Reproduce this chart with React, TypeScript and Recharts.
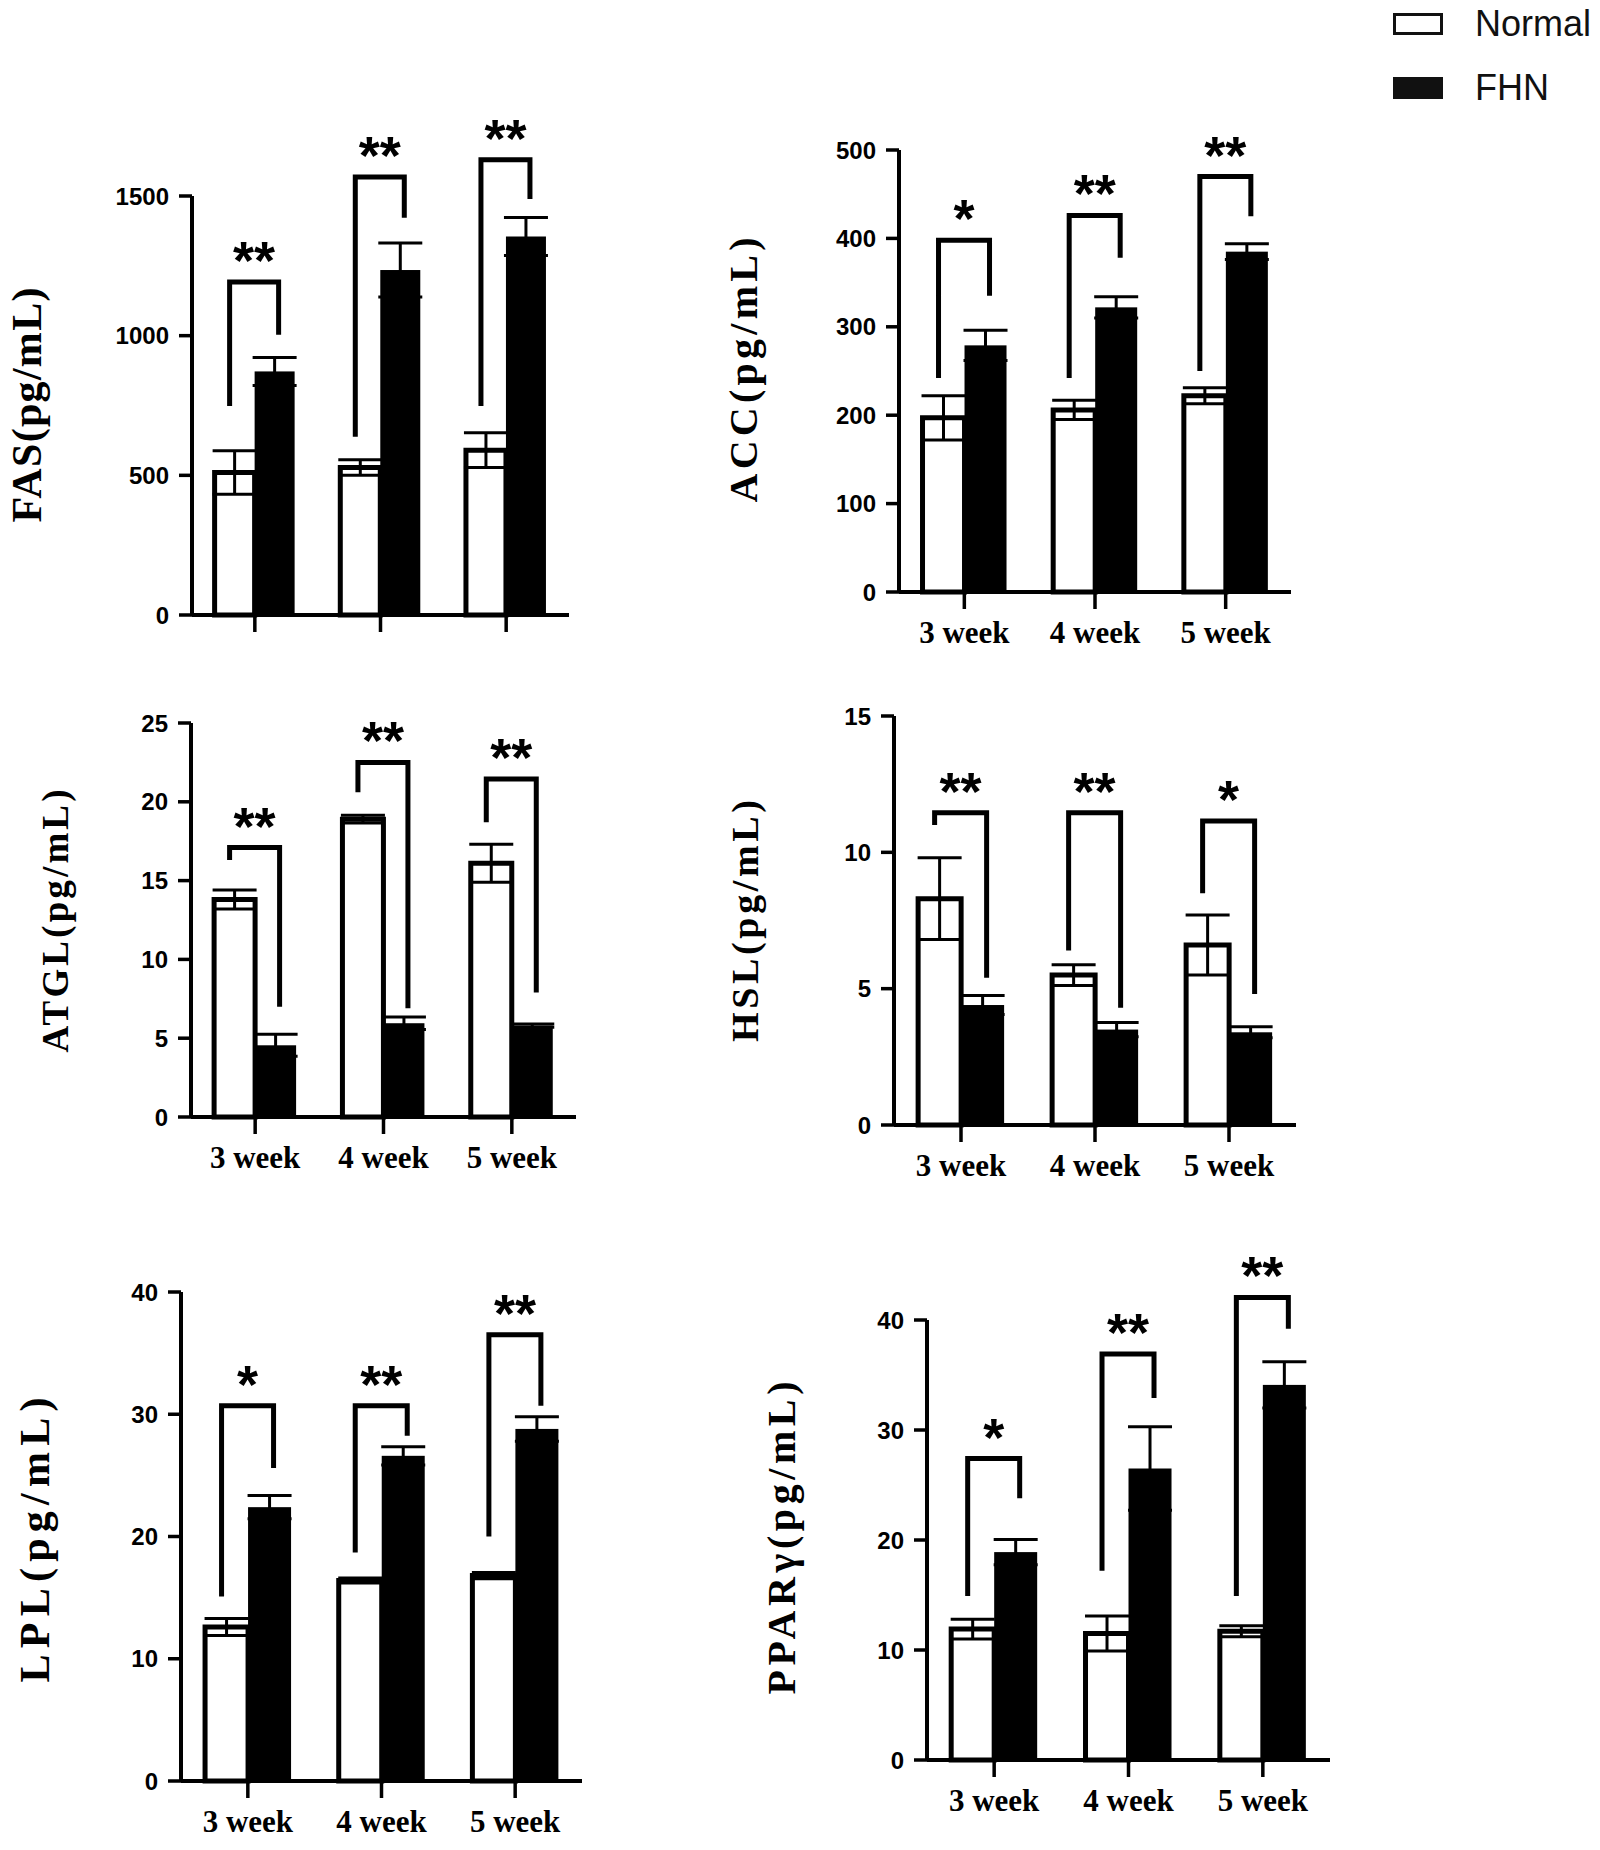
import { BarChart, Bar, XAxis, YAxis, ErrorBar } from 'recharts';

const WEEKS = ['3 week', '4 week', '5 week'];

// FAS
const FAS_NORMAL = [510, 528, 590];
const FAS_NORMAL_ERR = [78, 28, 62];
const FAS_FHN = [872, 1235, 1355];
const FAS_FHN_ERR = [50, 97, 68];
const FAS_BRACKET_TOP = [1192, 1568, 1630];
const FAS_BRACKET_LEFT = [748, 638, 748];
const FAS_BRACKET_RIGHT = [1003, 1422, 1489];
const FAS_STARS = ['**', '**', '**'];
const FAS_TICKS = [0, 500, 1000, 1500];

// ACC
const ACC_NORMAL = [197, 206, 222];
const ACC_NORMAL_ERR = [25, 11, 9];
const ACC_FHN = [279, 322, 385];
const ACC_FHN_ERR = [17, 12, 9];
const ACC_BRACKET_TOP = [398, 426, 470];
const ACC_BRACKET_LEFT = [242, 242, 250];
const ACC_BRACKET_RIGHT = [335, 378, 425];
const ACC_STARS = ['*', '**', '**'];
const ACC_TICKS = [0, 100, 200, 300, 400, 500];

// ATGL
const ATGL_NORMAL = [13.8, 18.9, 16.1];
const ATGL_NORMAL_ERR = [0.6, 0.25, 1.2];
const ATGL_FHN = [4.55, 5.95, 5.8];
const ATGL_FHN_ERR = [0.7, 0.4, 0.1];
const ATGL_BRACKET_TOP = [17.1, 22.5, 21.45];
const ATGL_BRACKET_LEFT = [16.3, 20.6, 18.7];
const ATGL_BRACKET_RIGHT = [7.0, 6.9, 7.9];
const ATGL_STARS = ['**', '**', '**'];
const ATGL_TICKS = [0, 5, 10, 15, 20, 25];

// HSL
const HSL_NORMAL = [8.3, 5.5, 6.6];
const HSL_NORMAL_ERR = [1.5, 0.38, 1.1];
const HSL_FHN = [4.4, 3.5, 3.4];
const HSL_FHN_ERR = [0.35, 0.26, 0.2];
const HSL_BRACKET_TOP = [11.45, 11.45, 11.15];
const HSL_BRACKET_LEFT = [11.0, 6.4, 8.5];
const HSL_BRACKET_RIGHT = [5.4, 4.3, 4.8];
const HSL_STARS = ['**', '**', '*'];
const HSL_TICKS = [0, 5, 10, 15];

// LPL
const LPL_NORMAL = [12.6, 16.4, 16.8];
const LPL_NORMAL_ERR = [0.7, 0.2, 0.25];
const LPL_FHN = [22.4, 26.6, 28.8];
const LPL_FHN_ERR = [0.95, 0.75, 1.0];
const LPL_BRACKET_TOP = [30.7, 30.7, 36.5];
const LPL_BRACKET_LEFT = [15.1, 18.7, 20.0];
const LPL_BRACKET_RIGHT = [25.6, 28.25, 30.7];
const LPL_STARS = ['*', '**', '**'];
const LPL_TICKS = [0, 10, 20, 30, 40];

// PPARγ
const PPAR_NORMAL = [11.9, 11.5, 11.7];
const PPAR_NORMAL_ERR = [0.9, 1.6, 0.5];
const PPAR_FHN = [18.9, 26.5, 34.1];
const PPAR_FHN_ERR = [1.15, 3.8, 2.1];
const PPAR_BRACKET_TOP = [27.4, 36.9, 42.05];
const PPAR_BRACKET_LEFT = [14.9, 17.2, 14.9];
const PPAR_BRACKET_RIGHT = [23.8, 32.9, 39.2];
const PPAR_STARS = ['*', '**', '**'];
const PPAR_TICKS = [0, 10, 20, 30, 40];

const SERIF = "'Liberation Serif', 'Times New Roman', serif";
const SANS = "'Liberation Sans', Arial, sans-serif";

const Y_W = 110;
const M_TOP = 140;
const M_RIGHT = 10;
const X_H = 65;

function makeRows(normal, normalErr, fhn, fhnErr, top, left, right, stars) {
  return WEEKS.map((week, i) => ({
    week,
    normal: normal[i],
    normalErr: normalErr[i],
    fhn: fhn[i],
    fhnErr: fhnErr[i],
    top: top[i],
    left: left[i],
    right: right[i],
    stars: stars[i],
  }));
}

// black bar + significance bracket, placed with the bar's own scale
const FhnShape = (p: any) => {
  const { x, y, width, height, payload } = p;
  const ppu = height / payload.fhn;
  const base = y + height;
  const py = (v: number) => base - v * ppu;
  const lx = x - width / 2 - 5;
  const rx = x + width / 2 + 4;
  const ty = py(payload.top);
  return (
    <g>
      <rect x={x} y={y} width={width} height={height} fill="#000" />
      <path
        d={`M${lx},${py(payload.left)}V${ty}H${rx}V${py(payload.right)}`}
        fill="none"
        stroke="#000"
        strokeWidth={5}
        strokeLinejoin="miter"
      />
      <text
        x={(lx + rx) / 2}
        y={ty - 3}
        textAnchor="middle"
        fontFamily={SANS}
        fontSize={54}
        fontWeight={700}
        fill="#000"
      >
        {payload.stars}
      </text>
    </g>
  );
};

function Panel({ rows, x0, x1, yTop, y0, yMax, yTicks, showLabels }) {
  const left = x0 - Y_W;
  const top = yTop - M_TOP;
  const width = x1 - x0 + Y_W + M_RIGHT;
  const height = M_TOP + (y0 - yTop) + X_H;
  const axisLine = { stroke: '#000', strokeWidth: 4 };
  const tickLine = { stroke: '#000', strokeWidth: 3.5 };
  return (
    <div style={{ position: 'absolute', left, top, width, height }}>
      <BarChart
        width={width}
        height={height}
        data={rows}
        margin={{ top: M_TOP, right: M_RIGHT, bottom: 0, left: 0 }}
        barCategoryGap="18%"
        barGap={0}
      >
        <XAxis
          dataKey="week"
          height={X_H}
          interval={0}
          tickSize={17}
          tickMargin={12}
          axisLine={axisLine}
          tickLine={tickLine}
          tick={
            showLabels
              ? { fontFamily: SERIF, fontSize: 31, fontWeight: 700, fill: '#000' }
              : () => <g />
          }
        />
        <YAxis
          width={Y_W}
          domain={[0, yMax]}
          ticks={yTicks}
          interval={0}
          tickSize={13}
          tickMargin={10}
          axisLine={axisLine}
          tickLine={tickLine}
          tick={{ fontFamily: SANS, fontSize: 24, fontWeight: 700, fill: '#000' }}
        />
        <Bar dataKey="normal" fill="#fff" stroke="#000" strokeWidth={5} isAnimationActive={false}>
          <ErrorBar dataKey="normalErr" direction="y" width={22} stroke="#000" strokeWidth={3} />
        </Bar>
        <Bar dataKey="fhn" fill="#000" shape={FhnShape} isAnimationActive={false}>
          <ErrorBar dataKey="fhnErr" direction="y" width={22} stroke="#000" strokeWidth={3} />
        </Bar>
      </BarChart>
    </div>
  );
}

const yLabel = (text, x, y, size, len) => (
  <text
    transform={`translate(${x},${y}) rotate(-90)`}
    textAnchor="middle"
    fontFamily={SERIF}
    fontWeight={700}
    fontSize={size}
    textLength={len}
    lengthAdjust="spacing"
    fill="#000"
  >
    {text}
  </text>
);

export default function App() {
  return (
    <div style={{ position: 'absolute', left: 0, top: 0, width: 1600, height: 1850, background: '#fff', overflow: 'hidden' }}>
      <Panel
        rows={makeRows(FAS_NORMAL, FAS_NORMAL_ERR, FAS_FHN, FAS_FHN_ERR, FAS_BRACKET_TOP, FAS_BRACKET_LEFT, FAS_BRACKET_RIGHT, FAS_STARS)}
        x0={192} x1={569} yTop={196} y0={615} yMax={1500} yTicks={FAS_TICKS} showLabels={false}
      />
      <Panel
        rows={makeRows(ACC_NORMAL, ACC_NORMAL_ERR, ACC_FHN, ACC_FHN_ERR, ACC_BRACKET_TOP, ACC_BRACKET_LEFT, ACC_BRACKET_RIGHT, ACC_STARS)}
        x0={899} x1={1291} yTop={150} y0={592} yMax={500} yTicks={ACC_TICKS} showLabels
      />
      <Panel
        rows={makeRows(ATGL_NORMAL, ATGL_NORMAL_ERR, ATGL_FHN, ATGL_FHN_ERR, ATGL_BRACKET_TOP, ATGL_BRACKET_LEFT, ATGL_BRACKET_RIGHT, ATGL_STARS)}
        x0={191} x1={576} yTop={723} y0={1117} yMax={25} yTicks={ATGL_TICKS} showLabels
      />
      <Panel
        rows={makeRows(HSL_NORMAL, HSL_NORMAL_ERR, HSL_FHN, HSL_FHN_ERR, HSL_BRACKET_TOP, HSL_BRACKET_LEFT, HSL_BRACKET_RIGHT, HSL_STARS)}
        x0={894} x1={1296} yTop={716} y0={1125} yMax={15} yTicks={HSL_TICKS} showLabels
      />
      <Panel
        rows={makeRows(LPL_NORMAL, LPL_NORMAL_ERR, LPL_FHN, LPL_FHN_ERR, LPL_BRACKET_TOP, LPL_BRACKET_LEFT, LPL_BRACKET_RIGHT, LPL_STARS)}
        x0={181} x1={582} yTop={1292} y0={1781} yMax={40} yTicks={LPL_TICKS} showLabels
      />
      <Panel
        rows={makeRows(PPAR_NORMAL, PPAR_NORMAL_ERR, PPAR_FHN, PPAR_FHN_ERR, PPAR_BRACKET_TOP, PPAR_BRACKET_LEFT, PPAR_BRACKET_RIGHT, PPAR_STARS)}
        x0={927} x1={1330} yTop={1320} y0={1760} yMax={40} yTicks={PPAR_TICKS} showLabels
      />
      <svg
        width={1600}
        height={1850}
        style={{ position: 'absolute', left: 0, top: 0, pointerEvents: 'none' }}
      >
        {yLabel('FAS(pg/mL)', 41, 405, 42, 235)}
        {yLabel('ACC(pg/mL)', 757, 370, 40, 265)}
        {yLabel('ATGL(pg/mL)', 68, 921, 37, 263)}
        {yLabel('HSL(pg/mL)', 758, 921, 38, 242)}
        {yLabel('LPL(pg/mL)', 49, 1540, 42, 285)}
        {yLabel('PPARγ(pg/mL)', 795, 1538, 40, 313)}

        <rect x={1394.5} y={14.5} width={47} height={19} fill="#fff" stroke="#111" strokeWidth={3} />
        <text x={1475} y={36} fontFamily={SANS} fontSize={36} fill="#111">Normal</text>
        <rect x={1393} y={77} width={50} height={22} fill="#111" />
        <text x={1475} y={100} fontFamily={SANS} fontSize={36} fill="#111">FHN</text>
      </svg>
    </div>
  );
}
